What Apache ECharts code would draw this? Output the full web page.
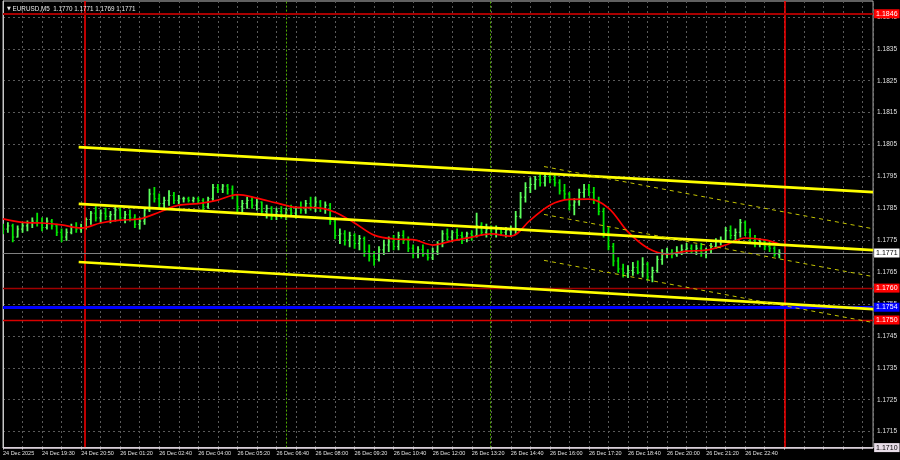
<!DOCTYPE html>
<html><head><meta charset="utf-8">
<script src="https://cdn.jsdelivr.net/npm/echarts@6/dist/echarts.min.js"></script>
<style>html,body{margin:0;padding:0;background:#000}#c{width:900px;height:460px}</style>
</head><body><div id="c"></div>
<script>
const symbolTitle = 'EURUSD,M5  1.1770 1.1771 1.1769 1.1771';
const timeLabels = ['24 Dec 2025','24 Dec 19:30','24 Dec 20:50','26 Dec 01:20','26 Dec 02:40','26 Dec 04:00','26 Dec 05:20','26 Dec 06:40','26 Dec 08:00','26 Dec 09:20','26 Dec 10:40','26 Dec 12:00','26 Dec 13:20','26 Dec 14:40','26 Dec 16:00','26 Dec 17:20','26 Dec 18:40','26 Dec 20:00','26 Dec 21:20','26 Dec 22:40'];

const firstOpen = 1.17790;
const lows = [
1.17770,1.17775,1.17745,1.17760,1.17775,1.17780,1.17790,1.17795,1.17780,1.17785,
1.17785,1.17765,1.17745,1.17750,1.17770,1.17775,1.17775,1.17785,1.17800,1.17810,
1.17805,1.17815,1.17805,1.17810,1.17815,1.17805,1.17810,1.17790,1.17785,1.17800,
1.17840,1.17870,1.17855,1.17850,1.17860,1.17865,1.17865,1.17870,1.17870,1.17870,
1.17865,1.17845,1.17850,1.17875,1.17900,1.17900,1.17895,1.17880,1.17840,1.17835,
1.17850,1.17850,1.17845,1.17830,1.17820,1.17815,1.17815,1.17820,1.17815,1.17825,
1.17820,1.17835,1.17835,1.17845,1.17840,1.17840,1.17835,1.17800,1.17755,1.17740,
1.17735,1.17730,1.17725,1.17720,1.17700,1.17685,1.17672,1.17685,1.17705,1.17715,
1.17720,1.17720,1.17740,1.17715,1.17695,1.17695,1.17700,1.17688,1.17690,1.17705,
1.17730,1.17750,1.17745,1.17750,1.17740,1.17745,1.17750,1.17760,1.17765,1.17760,
1.17765,1.17760,1.17765,1.17760,1.17765,1.17770,1.17820,1.17870,1.17900,1.17910,
1.17920,1.17920,1.17930,1.17920,1.17895,1.17880,1.17845,1.17830,1.17860,1.17885,
1.17890,1.17865,1.17830,1.17760,1.17720,1.17670,1.17650,1.17635,1.17633,1.17640,
1.17645,1.17635,1.17625,1.17620,1.17650,1.17675,1.17695,1.17695,1.17700,1.17705,
1.17710,1.17710,1.17705,1.17700,1.17695,1.17710,1.17725,1.17735,1.17745,1.17755,
1.17750,1.17760,1.17765,1.17745,1.17730,1.17730,1.17720,1.17715,1.17700,1.17695];
const highs = [
1.17800,1.17805,1.17800,1.17795,1.17805,1.17810,1.17820,1.17835,1.17820,1.17820,
1.17815,1.17800,1.17785,1.17785,1.17800,1.17805,1.17800,1.17820,1.17840,1.17855,
1.17845,1.17850,1.17840,1.17855,1.17850,1.17840,1.17845,1.17830,1.17820,1.17850,
1.17910,1.17915,1.17895,1.17885,1.17905,1.17900,1.17890,1.17885,1.17885,1.17885,
1.17885,1.17880,1.17885,1.17925,1.17925,1.17925,1.17925,1.17920,1.17890,1.17875,
1.17885,1.17885,1.17880,1.17870,1.17860,1.17855,1.17850,1.17855,1.17850,1.17860,
1.17855,1.17870,1.17875,1.17885,1.17885,1.17875,1.17870,1.17865,1.17815,1.17785,
1.17780,1.17775,1.17770,1.17765,1.17760,1.17735,1.17715,1.17730,1.17750,1.17760,
1.17765,1.17775,1.17780,1.17760,1.17735,1.17730,1.17735,1.17720,1.17725,1.17745,
1.17780,1.17785,1.17780,1.17785,1.17775,1.17775,1.17780,1.17835,1.17805,1.17800,
1.17795,1.17795,1.17790,1.17790,1.17795,1.17840,1.17900,1.17930,1.17945,1.17950,
1.17955,1.17960,1.17961,1.17955,1.17940,1.17925,1.17900,1.17880,1.17910,1.17925,
1.17925,1.17915,1.17885,1.17850,1.17790,1.17740,1.17695,1.17675,1.17670,1.17680,
1.17685,1.17695,1.17680,1.17665,1.17700,1.17720,1.17725,1.17720,1.17730,1.17735,
1.17740,1.17735,1.17735,1.17740,1.17725,1.17740,1.17755,1.17760,1.17790,1.17795,
1.17785,1.17815,1.17810,1.17785,1.17765,1.17755,1.17750,1.17745,1.17730,1.17720];
const closes = [
1.17785,1.17795,1.17760,1.17785,1.17795,1.17805,1.17810,1.17805,1.17790,1.17810,
1.17795,1.17775,1.17760,1.17775,1.17790,1.17785,1.17790,1.17815,1.17835,1.17820,
1.17835,1.17825,1.17830,1.17845,1.17820,1.17830,1.17820,1.17800,1.17810,1.17845,
1.17895,1.17880,1.17865,1.17875,1.17890,1.17875,1.17880,1.17880,1.17875,1.17880,
1.17875,1.17855,1.17880,1.17915,1.17910,1.17920,1.17910,1.17890,1.17855,1.17865,
1.17875,1.17860,1.17870,1.17840,1.17850,1.17825,1.17840,1.17830,1.17845,1.17835,
1.17850,1.17845,1.17865,1.17855,1.17870,1.17850,1.17860,1.17810,1.17765,1.17770,
1.17750,1.17765,1.17740,1.17755,1.17715,1.17700,1.17690,1.17720,1.17735,1.17745,
1.17730,1.17765,1.17750,1.17725,1.17710,1.17720,1.17705,1.17695,1.17715,1.17740,
1.17770,1.17760,1.17775,1.17765,1.17760,1.17770,1.17765,1.17795,1.17775,1.17785,
1.17770,1.17785,1.17775,1.17780,1.17785,1.17825,1.17885,1.17915,1.17925,1.17940,
1.17930,1.17950,1.17940,1.17930,1.17905,1.17895,1.17860,1.17870,1.17900,1.17910,
1.17900,1.17875,1.17840,1.17775,1.17730,1.17685,1.17660,1.17645,1.17655,1.17665,
1.17650,1.17675,1.17635,1.17655,1.17690,1.17705,1.17710,1.17705,1.17715,1.17720,
1.17725,1.17715,1.17725,1.17710,1.17720,1.17730,1.17745,1.17750,1.17780,1.17765,
1.17775,1.17805,1.17775,1.17755,1.17740,1.17745,1.17730,1.17725,1.17705,1.17710];

// moving average read every 4th bar, plus the final point
const maValues = [1.17817,1.17806,1.17804,1.17798,1.17788,1.17804,1.17813,1.17817,1.17838,1.17860,
1.17865,1.17876,1.17893,1.17882,1.17867,1.17853,1.17852,1.17838,1.17804,1.17766,
1.17754,1.17752,1.17735,1.17748,1.17760,1.17770,1.17763,1.17813,1.17860,1.17878,
1.17879,1.17851,1.17776,1.17726,1.17707,1.17716,1.17719,1.17735,1.17757,1.17751];
const maLast = 1.17738;

// trend channels: [startBar, startPrice, endBar, endPrice]
const channelSolid = [[15.5,1.18042,178.2,1.17901],[15.5,1.17864,178.2,1.17719],[15.5,1.17682,178.2,1.17534]];
const channelDashed = [[110.8,1.17981,178.2,1.17786],[110.8,1.17831,178.2,1.17636],[110.8,1.17687,178.2,1.17492]];

const levelPrices = [1.1846, 1.1771, 1.1760, 1.1754, 1.1750, 1.1710];
const sessionLines = [16.7, 160.2];
const periodLines = [58.0, 99.8];

const levelStyles = [
  {line:'#a80000', w:2,   bg:'#ff0000', fg:'#ffffff'},
  {line:'#808080', w:1,   bg:'#ffffff', fg:'#000000'},
  {line:'#a00000', w:1.3, bg:'#ff0000', fg:'#ffffff'},
  {line:'#0000ff', w:3,   bg:'#0000ff', fg:'#ffffff'},
  {line:'#d80000', w:1.3, bg:'#ff0000', fg:'#ffffff'},
  {line:'#ddd0dd', w:1.6, bg:'#e8dde8', fg:'#000000'}
];

const FONT = 'Liberation Sans Narrow, Liberation Sans, sans-serif';

const bars = closes.map((c, i) => [i, i === 0 ? firstOpen : closes[i - 1], c, lows[i], highs[i]]);
const maData = maValues.map((v, k) => [k * 4, v]).concat([[159, maLast]]);

function renderBar(params, api) {
  const x = api.value(0), o = api.value(1), c = api.value(2), l = api.value(3), h = api.value(4);
  const pL = api.coord([x, l]), pH = api.coord([x, h]), pO = api.coord([x, o]), pC = api.coord([x, c]);
  const col = c >= o ? '#5cff5c' : '#00e600';
  return {type: 'group', children: [
    {type: 'line', shape: {x1: pL[0], y1: pL[1] + 0.5, x2: pH[0], y2: pH[1] - 0.5}, style: {stroke: col, lineWidth: 1.8}},
    {type: 'line', shape: {x1: pO[0] - 1.5, y1: pO[1], x2: pO[0], y2: pO[1]}, style: {stroke: col, lineWidth: 1}},
    {type: 'line', shape: {x1: pC[0], y1: pC[1], x2: pC[0] + 1.5, y2: pC[1]}, style: {stroke: col, lineWidth: 1}}
  ]};
}

const hLines = levelPrices.map((p, i) => {
  const s = levelStyles[i];
  return {
    yAxis: p,
    lineStyle: {color: s.line, width: s.w, type: 'solid'},
    label: {show: true, position: 'end', distance: 1, formatter: p.toFixed(4), color: s.fg,
      backgroundColor: s.bg, padding: [1, 2, 1, 2], fontSize: 7, fontFamily: FONT}
  };
});
const vLines = sessionLines.map(v => ({xAxis: v, lineStyle: {color: '#ff0000', width: 1.5, type: 'solid'}, label: {show: false}}))
  .concat(periodLines.map(v => ({xAxis: v, lineStyle: {color: '#4faa00', width: 1, type: [2, 2]}, label: {show: false}})));

const series = [
  {type: 'custom', name: 'EURUSD', data: bars, encode: {x: 0, y: [1, 2, 3, 4]}, renderItem: renderBar, clip: true, z: 3, silent: true,
   markLine: {symbol: ['none', 'none'], precision: 6, silent: true, animation: false, data: vLines}},
  {type: 'line', name: 'MA', data: maData, symbol: 'none', smooth: 0.35, lineStyle: {color: '#ff0000', width: 1.7}, z: 4, silent: true,
   markLine: {symbol: ['none', 'none'], precision: 6, silent: true, animation: false, data: hLines}}
];
channelSolid.forEach(s => series.push({type: 'line', data: [[s[0], s[1]], [s[2], s[3]]], symbol: 'none',
  lineStyle: {color: '#ffff00', width: 2.6}, z: 5, silent: true}));
channelDashed.forEach(s => series.push({type: 'line', data: [[s[0], s[1]], [s[2], s[3]]], symbol: 'none',
  lineStyle: {color: '#c4c400', width: 1, type: [4, 4]}, z: 5, silent: true}));

const chart = echarts.init(document.getElementById('c'), null, {renderer: 'canvas'});
chart.setOption({
  backgroundColor: '#000000',
  animation: false,
  title: {
    text: '{t|▼} ' + symbolTitle, left: 2, top: 1,
    textStyle: {color: '#e8e8e8', fontSize: 6.3, fontWeight: 'normal', fontFamily: FONT,
      rich: {t: {fontSize: 5, color: '#e8e8e8', fontFamily: 'DejaVu Sans'}}}
  },
  grid: {left: 2, right: 25, top: 1, bottom: 12.4, show: true, borderColor: '#c0c0c0', borderWidth: 1, backgroundColor: 'transparent'},
  xAxis: {
    type: 'value', min: 0, max: 178.2, interval: 4,
    axisLine: {show: true, lineStyle: {color: '#c8c8c8'}},
    axisTick: {show: true, length: 2, lineStyle: {color: '#c8c8c8'}},
    axisLabel: {color: '#e0e0e0', fontSize: 5.5, fontFamily: FONT, align: 'left', margin: 3, showMaxLabel: false,
      formatter: v => { const k = Math.round(v); return (k % 8 === 0 && k / 8 < timeLabels.length) ? timeLabels[k / 8] : ''; }},
    splitLine: {show: true, lineStyle: {color: '#5a5a5a', type: [2, 3], width: 1}}
  },
  yAxis: {
    type: 'value', position: 'right', min: 1.1710, max: 1.1850, interval: 0.0005,
    axisLine: {show: true, lineStyle: {color: '#c8c8c8'}},
    axisTick: {show: false},
    axisLabel: {color: '#e0e0e0', fontSize: 6.5, fontFamily: FONT, margin: 4,
      formatter: v => (Math.round(v * 10000) % 10 === 5 ? v.toFixed(4) : '')},
    splitLine: {show: true, lineStyle: {color: ['rgba(0,0,0,0)', '#5a5a5a'], type: [2, 3], width: 1}}
  },
  series: series
});
</script>
</body></html>
